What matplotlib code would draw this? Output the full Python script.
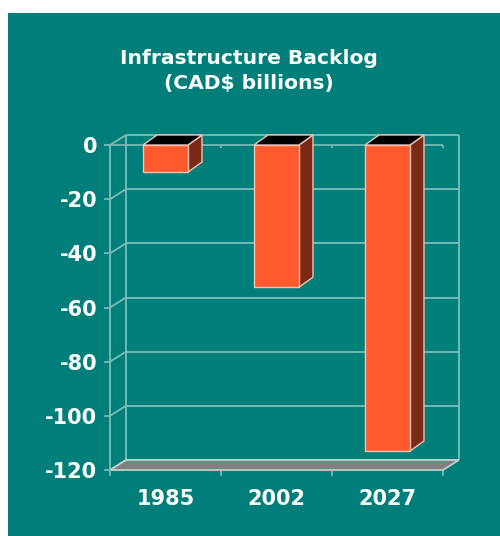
import matplotlib
matplotlib.use("Agg")
import matplotlib.pyplot as plt
from matplotlib.patches import Polygon, Rectangle

# Data
years = ["1985", "2002", "2027"]
backlog = [-10, -52.5, -113]          # CAD$ billions
y_ticks = [0, -20, -40, -60, -80, -100, -120]

# Styling
TEAL = "#007F7A"
GRID = "#7FBDB9"
FRONT = "#FF5A2E"
SIDE = "#7C2A18"
TOP = "#000000"
EDGE = "#F2C2B2"
FLOOR = "#808080"
FLOOR_EDGE = "#C9D3D2"

fig = plt.figure(figsize=(5.0, 5.36), dpi=100)
fig.patch.set_facecolor("white")
fig.patches.append(Rectangle((8 / 500, 0), 1 - 8 / 500, (536 - 13) / 536,
                             transform=fig.transFigure, facecolor=TEAL,
                             edgecolor="none", zorder=-10))

ax = fig.add_axes([110 / 500, 66 / 536, 333 / 500, 325 / 536])
ax.set_zorder(1)
ax.set_facecolor("none")
ax.set_xlim(0, 3)
ax.set_ylim(-120, 0)

# Oblique depth offsets expressed in data units
px_x = 3 / 333
px_y = 120 / 325
WDX, WDY = 16 * px_x, 10 * px_y      # wall depth
BDX, BDY = 14 * px_x, 10 * px_y      # bar depth

ymin, ymax = -120, 0
kw = dict(clip_on=False, solid_capstyle="butt")

# Back wall gridlines and left side wall diagonals
for v in y_ticks:
    ax.plot([WDX, 3 + WDX], [v + WDY, v + WDY], color=GRID, lw=1.3, zorder=1, **kw)
    ax.plot([0, WDX], [v, v + WDY], color=GRID, lw=1.3, zorder=1, **kw)
ax.plot([WDX, WDX], [ymin + WDY, ymax + WDY], color=GRID, lw=1.3, zorder=1, **kw)
ax.plot([3 + WDX, 3 + WDX], [ymin + WDY, ymax + WDY], color=GRID, lw=1.3, zorder=1, **kw)

# Floor
floor = Polygon([(0, ymin), (3, ymin), (3 + WDX, ymin + WDY), (WDX, ymin + WDY)],
                closed=True, facecolor=FLOOR, edgecolor=FLOOR_EDGE, lw=1.2,
                zorder=2, clip_on=False)
ax.add_patch(floor)

# Front category axis at zero with division ticks
ax.plot([0, 3], [0, 0], color=GRID, lw=1.2, zorder=2, **kw)
for d in [1, 2, 3]:
    ax.plot([d, d], [0, -1.2], color=GRID, lw=1.2, zorder=2, **kw)

# 3D bars
centers = [0.5, 1.5, 2.5]
width = 0.405
ax.bar(centers, backlog, width=width, bottom=0, color=FRONT,
       edgecolor=EDGE, linewidth=1.0, zorder=4)
for c, v in zip(centers, backlog):
    x0, x1 = c - width / 2, c + width / 2
    side = Polygon([(x1, 0), (x1 + BDX, BDY), (x1 + BDX, v + BDY), (x1, v)],
                   closed=True, facecolor=SIDE, edgecolor=EDGE, lw=1.0,
                   zorder=3, clip_on=False)
    top = Polygon([(x0, 0), (x1, 0), (x1 + BDX, BDY), (x0 + BDX, BDY)],
                  closed=True, facecolor=TOP, edgecolor=EDGE, lw=1.0,
                  zorder=3, clip_on=False)
    ax.add_patch(side)
    ax.add_patch(top)

# Axes decorations
for s in ["top", "right", "bottom"]:
    ax.spines[s].set_visible(False)
ax.spines["left"].set_color(GRID)
ax.spines["left"].set_linewidth(1.3)

ax.set_yticks(y_ticks)
ax.set_yticklabels([str(t) for t in y_ticks])
ax.tick_params(axis="y", colors=GRID, length=4, width=1.2, pad=5,
               labelcolor="white", labelsize=15)
for lbl in ax.get_yticklabels():
    lbl.set_fontweight("bold")

ax.set_xticks(centers)
ax.set_xticklabels(years)
ax.set_xticks([0, 1, 2, 3], minor=True)
ax.tick_params(axis="x", which="major", length=0, pad=14,
               labelcolor="white", labelsize=15)
ax.tick_params(axis="x", which="minor", length=4.5, width=1.2, colors=GRID)
for lbl in ax.get_xticklabels():
    lbl.set_fontweight("bold")

fig.text(249 / 500, 1 - 58 / 536, "Infrastructure Backlog", ha="center",
         va="center", color="white", fontsize=14.6, fontweight="bold")
fig.text(249 / 500, 1 - 84 / 536, "(CAD$ billions)", ha="center",
         va="center", color="white", fontsize=14.6, fontweight="bold")

fig.savefig("out.png", dpi=100, facecolor=fig.get_facecolor())
